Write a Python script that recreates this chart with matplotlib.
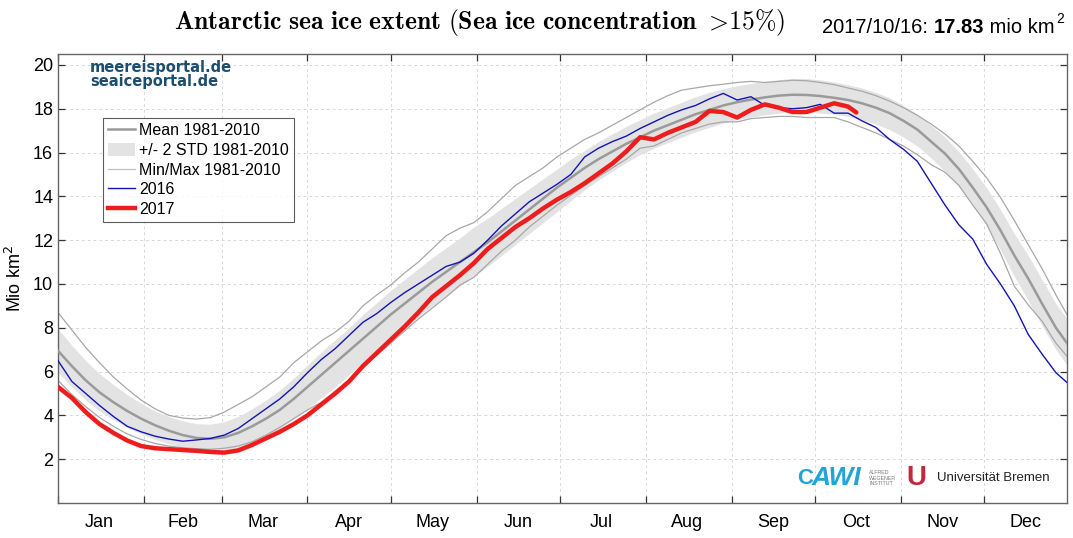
import matplotlib
matplotlib.use("Agg")
import matplotlib.pyplot as plt
from matplotlib.lines import Line2D
from matplotlib.patches import Patch

plt.rcParams['font.family'] = ['Liberation Sans', 'DejaVu Sans']
plt.rcParams['mathtext.fontset'] = 'cm'

# ---------------- data ----------------
DAYS = list(range(1, 362, 5)) + [365]
DAYS_2017 = list(range(1, 287, 5)) + [289]

MEAN = [6.95, 6.25, 5.6, 5.05, 4.6, 4.2, 3.85, 3.55, 3.3, 3.1,
        2.97, 2.93, 3.0, 3.2, 3.5, 3.85, 4.25, 4.75, 5.3, 5.85,
        6.4, 6.95, 7.5, 8.05, 8.6, 9.1, 9.6, 10.1, 10.55, 11.0,
        11.45, 11.9, 12.4, 12.9, 13.4, 13.9, 14.4, 14.85, 15.3, 15.7,
        16.05, 16.4, 16.7, 17.0, 17.25, 17.5, 17.75, 17.95, 18.15, 18.3,
        18.42, 18.52, 18.6, 18.64, 18.63, 18.58, 18.5, 18.4, 18.25, 18.05,
        17.8, 17.45, 17.05, 16.5, 15.95, 15.25, 14.4, 13.5, 12.45, 11.3,
        10.25, 9.1, 8.0, 7.3]

STD_UPPER = [7.95, 7.2, 6.5, 5.9, 5.4, 4.95, 4.55, 4.2, 3.95, 3.75,
             3.62, 3.6, 3.7, 3.95, 4.3, 4.7, 5.15, 5.7, 6.3, 6.9,
             7.45, 8.0, 8.6, 9.15, 9.7, 10.2, 10.7, 11.2, 11.65, 12.1,
             12.6, 13.0, 13.45, 13.9, 14.35, 14.8, 15.25, 15.7, 16.1, 16.5,
             16.85, 17.2, 17.5, 17.8, 18.05, 18.3, 18.55, 18.75, 18.92, 19.05,
             19.15, 19.25, 19.33, 19.38, 19.38, 19.32, 19.22, 19.1, 18.95, 18.75,
             18.5, 18.15, 17.75, 17.25, 16.7, 16.05, 15.25, 14.4, 13.4, 12.3,
             11.3, 10.2, 9.1, 8.4]

STD_LOWER = [5.95, 5.3, 4.7, 4.2, 3.8, 3.45, 3.15, 2.9, 2.7, 2.52,
             2.4, 2.33, 2.35, 2.48, 2.72, 3.05, 3.4, 3.85, 4.3, 4.8,
             5.3, 5.85, 6.4, 6.95, 7.5, 8.0, 8.5, 9.0, 9.45, 9.9,
             10.35, 10.8, 11.3, 11.8, 12.3, 12.8, 13.3, 13.8, 14.3, 14.75,
             15.15, 15.55, 15.9, 16.2, 16.45, 16.7, 16.95, 17.15, 17.35, 17.5,
             17.62, 17.72, 17.8, 17.85, 17.85, 17.8, 17.75, 17.65, 17.5, 17.3,
             17.05, 16.7, 16.3, 15.75, 15.15, 14.45, 13.6, 12.65, 11.55, 10.35,
             9.25, 8.1, 7.0, 6.3]

MAX = [8.7, 7.9, 7.1, 6.4, 5.75, 5.2, 4.7, 4.3, 4.0, 3.88,
       3.83, 3.9, 4.15, 4.5, 4.85, 5.3, 5.75, 6.4, 6.9, 7.4,
       7.8, 8.3, 9.0, 9.5, 9.95, 10.5, 11.0, 11.6, 12.2, 12.55,
       12.8, 13.3, 13.9, 14.5, 14.9, 15.3, 15.8, 16.2, 16.6, 16.9,
       17.25, 17.6, 17.95, 18.3, 18.6, 18.85, 18.95, 19.05, 19.12, 19.2,
       19.25, 19.2, 19.25, 19.3, 19.28, 19.2, 19.1, 18.95, 18.8, 18.6,
       18.35, 18.05, 17.7, 17.3, 16.85, 16.3, 15.6, 14.85, 13.95, 12.9,
       11.8, 10.7, 9.5, 8.6]

MIN = [5.6, 4.95, 4.4, 3.9, 3.5, 3.15, 2.9, 2.72, 2.6, 2.52,
       2.48, 2.45, 2.5, 2.6, 2.8, 3.1, 3.45, 3.85, 4.25, 4.6,
       5.1, 5.6, 6.2, 6.75, 7.3, 7.85, 8.4, 8.9, 9.4, 9.95,
       10.3, 10.9, 11.5, 12.0, 12.6, 13.1, 13.6, 14.05, 14.5, 14.9,
       15.3, 15.7, 16.2, 16.3, 16.6, 16.9, 17.1, 17.3, 17.4, 17.4,
       17.55, 17.6, 17.65, 17.65, 17.6, 17.6, 17.6, 17.4, 17.15, 16.9,
       16.6, 16.3, 15.9, 15.45, 15.1, 14.5, 13.6, 12.75, 11.4, 9.9,
       9.05, 8.3, 7.3, 6.7]

Y2016 = [6.5, 5.55, 5.0, 4.45, 3.95, 3.5, 3.25, 3.05, 2.92, 2.82,
         2.88, 2.95, 3.1, 3.4, 3.85, 4.3, 4.75, 5.3, 5.95, 6.55,
         7.05, 7.65, 8.25, 8.65, 9.15, 9.6, 10.0, 10.4, 10.8, 11.0,
         11.4, 12.0, 12.65, 13.2, 13.75, 14.15, 14.55, 15.0, 15.8, 16.2,
         16.5, 16.75, 17.1, 17.4, 17.7, 17.95, 18.15, 18.45, 18.7, 18.4,
         18.55, 18.15, 18.05, 18.0, 18.05, 18.2, 17.8, 17.8, 17.45, 17.15,
         16.6, 16.15, 15.6, 14.6, 13.6, 12.7, 12.05, 10.9, 10.0, 9.0,
         7.7, 6.8, 5.95, 5.5]

Y2017 = [5.3, 4.8, 4.15, 3.6, 3.2, 2.85, 2.6, 2.5, 2.46, 2.42,
         2.38, 2.33, 2.3, 2.4, 2.65, 2.95, 3.25, 3.6, 4.0, 4.5,
         5.0, 5.55, 6.25, 6.85, 7.45, 8.05, 8.7, 9.4, 9.9, 10.4,
         10.95, 11.6, 12.1, 12.6, 13.0, 13.45, 13.85, 14.2, 14.6, 15.05,
         15.5, 16.05, 16.7, 16.6, 16.9, 17.15, 17.4, 17.9, 17.85, 17.6,
         17.95, 18.2, 18.05, 17.85, 17.85, 18.05, 18.25, 18.1, 17.83]

MONTH_STARTS = [1, 32, 60, 91, 121, 152, 182, 213, 244, 274, 305, 335]
MONTH_MIDS = [16, 46, 75, 106, 136, 167, 197, 228, 259, 289, 320, 350]
MONTHS = ['Jan', 'Feb', 'Mar', 'Apr', 'May', 'Jun', 'Jul', 'Aug', 'Sep',
          'Oct', 'Nov', 'Dec']
YTICKS = [2, 4, 6, 8, 10, 12, 14, 16, 18, 20]
LABELS = ['Mean 1981-2010', '+/- 2 STD 1981-2010', 'Min/Max 1981-2010',
          '2016', '2017']
DATE_TEXT = '2017/10/16: '
LAST_VALUE = '17.83'

# ---------------- figure ----------------
W, H = 1073, 538
fig = plt.figure(figsize=(W / 100, H / 100), dpi=100)
ax = fig.add_axes([58 / W, 35 / H, (1067 - 58) / W, (503 - 54) / H])

band_col = '#e3e3e3'
ax.fill_between(DAYS, STD_LOWER, STD_UPPER, color=band_col, lw=0, zorder=1)
ax.plot(DAYS, MAX, color='#a8a8a8', lw=0.9, zorder=2)
ax.plot(DAYS, MIN, color='#a8a8a8', lw=0.9, zorder=2)
ax.plot(DAYS, MEAN, color='#9a9a9a', lw=1.8, zorder=3)
ax.plot(DAYS, Y2016, color='#1414b4', lw=1.0, zorder=4)
ax.plot(DAYS_2017, Y2017, color='#ee1c1c', lw=3.2, zorder=5,
        solid_capstyle='round', solid_joinstyle='round')

ax.set_xlim(1, 365)
ax.set_ylim(0, 20.5)
ax.set_xticks(MONTH_STARTS)
ax.set_xticklabels([])
ax.set_xticks(MONTH_MIDS, minor=True)
ax.set_xticklabels(MONTHS, minor=True)
ax.set_yticks(YTICKS)
ax.set_yticklabels([str(v) for v in YTICKS])
ax.tick_params(axis='both', which='major', direction='in', length=5,
               width=0.9, color='#333333', top=True, right=True,
               labelsize=13)
ax.tick_params(axis='x', which='minor', length=0, labelsize=13, pad=8)
ax.tick_params(axis='x', which='major', pad=8)
for s in ax.spines.values():
    s.set_color('#666666')
    s.set_linewidth(1.0)
ax.grid(True, which='major', color='#d8d8d8', linestyle=(0, (3, 3)),
        linewidth=0.7, zorder=0)
ax.set_axisbelow(True)
ax.set_ylabel('Mio km$^2$', fontsize=13, labelpad=6)
ax.yaxis.label.set_math_fontfamily('dejavusans')

handles = [Line2D([], [], color='#9a9a9a', lw=1.8),
           Patch(facecolor=band_col, edgecolor='none'),
           Line2D([], [], color='#c0c0c0', lw=0.9),
           Line2D([], [], color='#1414b4', lw=1.0),
           Line2D([], [], color='#ee1c1c', lw=3.2)]
leg = ax.legend(handles, LABELS, loc='upper left',
                bbox_to_anchor=((103 - 58) / 1009, (503 - 118) / 449),
                borderaxespad=0, fontsize=11.5, frameon=True, fancybox=False,
                edgecolor='#333333', handlelength=1.65, handletextpad=0.3,
                labelspacing=0.28, borderpad=0.33, handleheight=0.9)
leg.get_frame().set_linewidth(0.8)

# watermark
ax.text((90 - 58) / 1009, (503 - 60) / 449, 'meereisportal.de\nseaiceportal.de',
        transform=ax.transAxes, ha='left', va='top', fontsize=10.5,
        fontweight='bold', color='#1d4e70', family='DejaVu Sans',
        linespacing=0.95)

# title
fig.text(480 / W, 1 - 22 / H,
         r'$\mathbf{Antarctic\ sea\ ice\ extent\ (Sea\ ice\ concentration\ }>\!\mathbf{15\%)}$',
         ha='center', va='center', fontsize=18.5)

# right header text pieces
renderer = fig.canvas.get_renderer()
x0 = 822 / W
yb = 1 - 33 / H
t1 = fig.text(x0, yb, DATE_TEXT, fontsize=14.5, ha='left', va='baseline')
bb = t1.get_window_extent(renderer)
t2 = fig.text(bb.x1 / W, yb, LAST_VALUE, fontsize=14.5, fontweight='bold',
              ha='left', va='baseline')
bb = t2.get_window_extent(renderer)
t3 = fig.text(bb.x1 / W, yb, ' mio km', fontsize=14.5, ha='left',
              va='baseline')
bb = t3.get_window_extent(renderer)
fig.text(bb.x1 / W + 0.001, yb + 0.018, '2', fontsize=10, ha='left',
         va='baseline')

# logos (approximated as text)
fig.text(797 / W, 1 - 478 / H, 'C', fontsize=16, color='#22a4d6',
         ha='left', va='center', fontweight='bold')
fig.text(812 / W, 1 - 478 / H, 'AWI', fontsize=19, color='#22a4d6',
         ha='left', va='center', fontweight='bold', fontstyle='italic')
fig.text(869 / W, 1 - 478 / H, 'ALFRED\nWEGENER\nINSTITUT', fontsize=3.8,
         color='#777777', ha='left', va='center', linespacing=1.1)
fig.text(906 / W, 1 - 478 / H, 'U', fontsize=20, color='#c4283c',
         ha='left', va='center', fontweight='bold')
fig.text(937 / W, 1 - 478 / H, 'Universität Bremen', fontsize=9.5,
         color='#222222', ha='left', va='center')

fig.savefig('out.png', dpi=100)
